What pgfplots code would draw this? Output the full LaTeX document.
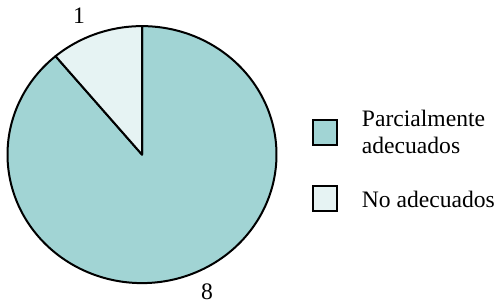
\documentclass[border=0pt]{standalone}
\usepackage{pgfplots}
\usepackage{pgfplotstable}
\pgfplotsset{compat=1.18}
\usepackage{fontspec}
\setmainfont{Liberation Serif}
\definecolor{pieA}{RGB}{161,212,212}
\definecolor{pieB}{RGB}{230,243,243}

\pgfplotstableread{
label value
Parcialmente 8
No 1
}\piedata

\begin{document}%
\begin{tikzpicture}
\pgfplotstablegetelem{0}{value}\of\piedata \let\valA\pgfplotsretval
\pgfplotstablegetelem{1}{value}\of\piedata \let\valB\pgfplotsretval
\pgfmathsetmacro{\total}{\valA+\valB}
\pgfmathsetmacro{\angB}{90+360*\valB/\total}
\pgfmathsetmacro{\angEnd}{\angB+360*\valA/\total}
\fontsize{11.8}{13.25}\selectfont
\begin{axis}[
  scale only axis, width=248.5pt, height=151pt,
  xmin=0, xmax=497, ymin=0, ymax=302, y dir=reverse,
  hide axis, clip=false,
]
% pie wedges (pixel space: center 142,154.6; radii 134.5 x 128.5)
\addplot[fill=pieA, draw=black, line width=1pt, line join=round, domain=\angB:\angEnd, samples=240, variable=\t]
  ({142+134.5*cos(t)},{154.6-128.5*sin(t)}) -- (axis cs:142,154.6) -- cycle;
\addplot[fill=pieB, draw=black, line width=1pt, line join=round, domain=90:\angB, samples=60, variable=\t]
  ({142+134.5*cos(t)},{154.6-128.5*sin(t)}) -- (axis cs:142,154.6) -- cycle;
% value labels
\node[inner sep=0] at (axis cs:79,16) {\valB};
\node[inner sep=0] at (axis cs:207,291.5) {\valA};
% legend
\draw[fill=pieA, line width=1.3pt] (axis cs:313,120) rectangle (axis cs:337,145);
\draw[fill=pieB, line width=1.3pt] (axis cs:313,186) rectangle (axis cs:337,211);
\node[anchor=base west, inner sep=0] at (axis cs:361.5,126.7) {Parcialmente};
\node[anchor=base west, inner sep=0] at (axis cs:361.5,153) {adecuados};
\node[anchor=base west, inner sep=0] at (axis cs:361.5,207.7) {No adecuados};
\end{axis}
\pgfresetboundingbox
\path (0,0) rectangle (248.5pt,151pt);
\end{tikzpicture}%
\end{document}
